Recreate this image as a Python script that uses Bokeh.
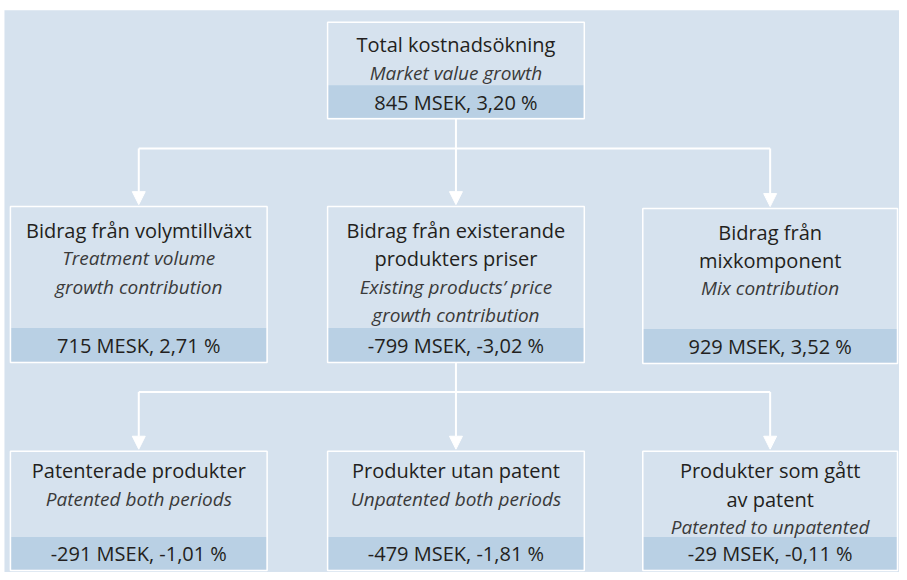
from bokeh.plotting import figure
from bokeh.models import Range1d, Arrow, NormalHead
from bokeh.core.properties import value
from bokeh.embed import file_html
from bokeh.resources import INLINE

# ---- data ----
titles = [
    "Total kostnadsökning",
    "Bidrag från volymtillväxt",
    "Bidrag från existerande\nprodukters priser",
    "Bidrag från\nmixkomponent",
    "Patenterade produkter",
    "Produkter utan patent",
    "Produkter som gått\nav patent",
]
subtitles = [
    "Market value growth",
    "Treatment volume\ngrowth contribution",
    "Existing products’ price\ngrowth contribution",
    "Mix contribution",
    "Patented both periods",
    "Unpatented both periods",
    "Patented to unpatented",
]
values = [
    "845 MSEK, 3,20 %",
    "715 MESK, 2,71 %",
    "-799 MSEK, -3,02 %",
    "929 MSEK, 3,52 %",
    "-291 MSEK, -1,01 %",
    "-479 MSEK, -1,81 %",
    "-29 MSEK, -0,11 %",
]
parent = [None, 0, 0, 0, 2, 2, 2]

# ---- layout (pixel space of the reference picture) ----
W, H = 899, 572
BG = "#d6e2ee"
BAND = "#b9d0e4"
FONT = "Open Sans"

# box geometry: x0, x1, top, band_top, band_bottom, first text line y
geom = [
    (330, 589, 22, 86, 120, 45),
    (10, 269, 209, 332, 367, 233),
    (330, 589, 209, 332, 367, 233),
    (648, 905, 211, 333, 368, 235),
    (10, 269, 457, 544, 578, 477),
    (330, 589, 457, 544, 578, 477),
    (648, 905, 457, 544, 578, 477),
]
LINE = 28.5

p = figure(width=W, height=H, output_backend="svg", toolbar_location=None,
           x_range=Range1d(0, 907), y_range=Range1d(580, 0),
           min_border=0, outline_line_color=None, background_fill_color="white",
           border_fill_color="white")
p.axis.visible = False
p.grid.visible = False

# background panel
p.quad(left=[4], right=[907], top=[10], bottom=[580], fill_color=BG, line_color=None)

# boxes
for (x0, x1, top, bt, bb, ty) in geom:
    p.quad(left=[x0], right=[x1], top=[top], bottom=[bb], fill_color=BG,
           line_color="white", line_width=1.5)
    p.quad(left=[x0 + 1], right=[x1 - 1], top=[bt], bottom=[bb - 1], fill_color=BAND,
           line_color=None)

# texts
for i, (x0, x1, top, bt, bb, ty) in enumerate(geom):
    cx = (x0 + x1) / 2
    tl = titles[i].split("\n")
    sl = subtitles[i].split("\n")
    y = ty
    for line in tl:
        p.text(x=[cx], y=[y], text=[line], text_font=value(FONT), text_font_size="20px",
               text_align="center", text_baseline="middle", text_color="#231f20")
        y += LINE
    for line in sl:
        p.text(x=[cx], y=[y], text=[line], text_font=value(FONT), text_font_size="19px",
               text_font_style="italic", text_align="center", text_baseline="middle",
               text_color="#3a3a3a")
        y += LINE
    p.text(x=[cx], y=[(bt + bb) / 2], text=[values[i]], text_font=value(FONT),
           text_font_size="20px", text_align="center", text_baseline="middle",
           text_color="#231f20")

# connectors
for par in sorted(set(x for x in parent if x is not None)):
    kids = [k for k, pp in enumerate(parent) if pp == par]
    px = (geom[par][0] + geom[par][1]) / 2
    pb = geom[par][4]
    kx = [(geom[k][0] + geom[k][1]) / 2 for k in kids]
    hy = pb + 30
    p.line([px, px], [pb, hy], line_color="white", line_width=2)
    p.line([min(kx), max(kx)], [hy, hy], line_color="white", line_width=2)
    for k, x in zip(kids, kx):
        p.add_layout(Arrow(end=NormalHead(size=13, fill_color="white", line_color="white"),
                           x_start=x, y_start=hy, x_end=x, y_end=geom[k][2] - 2,
                           line_color="white", line_width=2))

open("out.html", "w").write(file_html(p, INLINE))
